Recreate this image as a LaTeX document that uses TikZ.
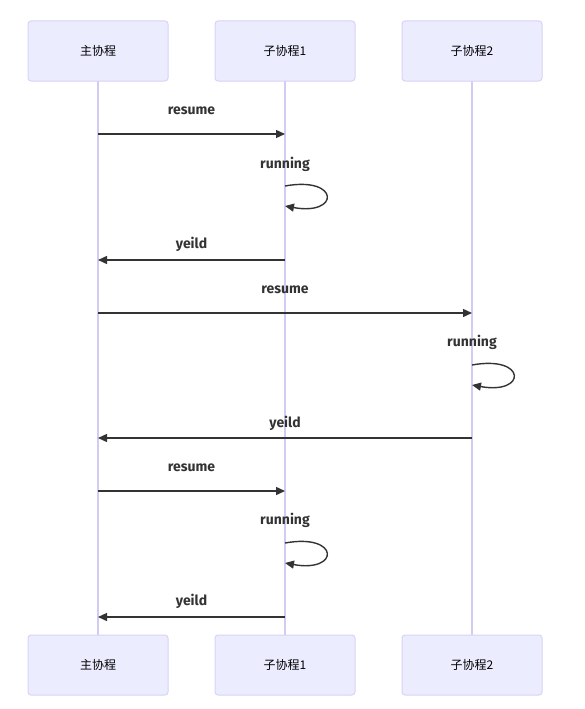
\documentclass[tikz,border=0pt]{standalone}
\usepackage{fontspec}
\setmainfont{Fira Sans}
\newfontfamily\cjk{Noto Sans CJK SC}
\usetikzlibrary{arrows.meta}
\definecolor{actfill}{HTML}{ECECFF}
\definecolor{actline}{HTML}{D9D2F7}
\definecolor{lifeln}{HTML}{D3CBF3}
\definecolor{msg}{HTML}{333333}
\tikzset{
  actor/.style={draw=actline, fill=actfill, rounded corners=3pt, line width=1pt,
    minimum width=140pt, minimum height=60pt, font=\cjk\fontsize{12}{14}\selectfont, inner sep=0pt},
  life/.style={draw=lifeln, line width=1.2pt},
  msgline/.style={draw=msg, line width=1.4pt, -{Triangle[length=9pt,width=8pt]}},
  lbl/.style={font=\bfseries\fontsize{14}{16}\selectfont, text=msg, inner sep=0pt}
}
\begin{document}
\begin{tikzpicture}[x=1pt,y=-1pt]
\useasboundingbox (0,0) rectangle (584,709);
% lifelines
\coordinate (La) at (98,81); \coordinate (Lb) at (285,81); \coordinate (Lc) at (472,81);
\coordinate (Ba) at (98,635); \coordinate (Bb) at (285,635); \coordinate (Bc) at (472,635);
\draw[life] (La) -- (Ba);
\draw[life] (Lb) -- (Bb);
\draw[life] (Lc) -- (Bc);
% actors
\node[actor] (A1) at (98,51) {主协程};
\node[actor] (B1) at (285,51) {子协程1};
\node[actor] (C1) at (472,51) {子协程2};
\node[actor] (A2) at (98,665) {主协程};
\node[actor] (B2) at (285,665) {子协程1};
\node[actor] (C2) at (472,665) {子协程2};
% message points
\coordinate (a1) at (98,134); \coordinate (b1) at (285,134);
\coordinate (b2) at (285,186); \coordinate (b2e) at (285,206);
\coordinate (b3) at (285,260); \coordinate (a3) at (98,260);
\coordinate (a4) at (98,313); \coordinate (c4) at (472,313);
\coordinate (c5) at (472,365); \coordinate (c5e) at (472,385);
\coordinate (c6) at (472,438); \coordinate (a6) at (98,438);
\coordinate (a7) at (98,491); \coordinate (b7) at (285,491);
\coordinate (b8) at (285,543); \coordinate (b8e) at (285,563);
\coordinate (b9) at (285,617); \coordinate (a9) at (98,617);
% messages
\draw[msgline] (a1) -- (b1);
\node[lbl] (t1) at (191.5,111) {resume};
\draw[msgline] (b2) .. controls +(55,-10) and +(55,10) .. (b2e);
\node[lbl] (t2) at (285,164) {running};
\draw[msgline] (b3) -- (a3);
\node[lbl] (t3) at (191.5,244) {yeild};
\draw[msgline] (a4) -- (c4);
\node[lbl] (t4) at (285,290) {resume};
\draw[msgline] (c5) .. controls +(55,-10) and +(55,10) .. (c5e);
\node[lbl] (t5) at (472,342) {running};
\draw[msgline] (c6) -- (a6);
\node[lbl] (t6) at (285,423) {yeild};
\draw[msgline] (a7) -- (b7);
\node[lbl] (t7) at (191.5,468) {resume};
\draw[msgline] (b8) .. controls +(55,-10) and +(55,10) .. (b8e);
\node[lbl] (t8) at (285,520) {running};
\draw[msgline] (b9) -- (a9);
\node[lbl] (t9) at (191.5,601) {yeild};
\end{tikzpicture}
\end{document}
